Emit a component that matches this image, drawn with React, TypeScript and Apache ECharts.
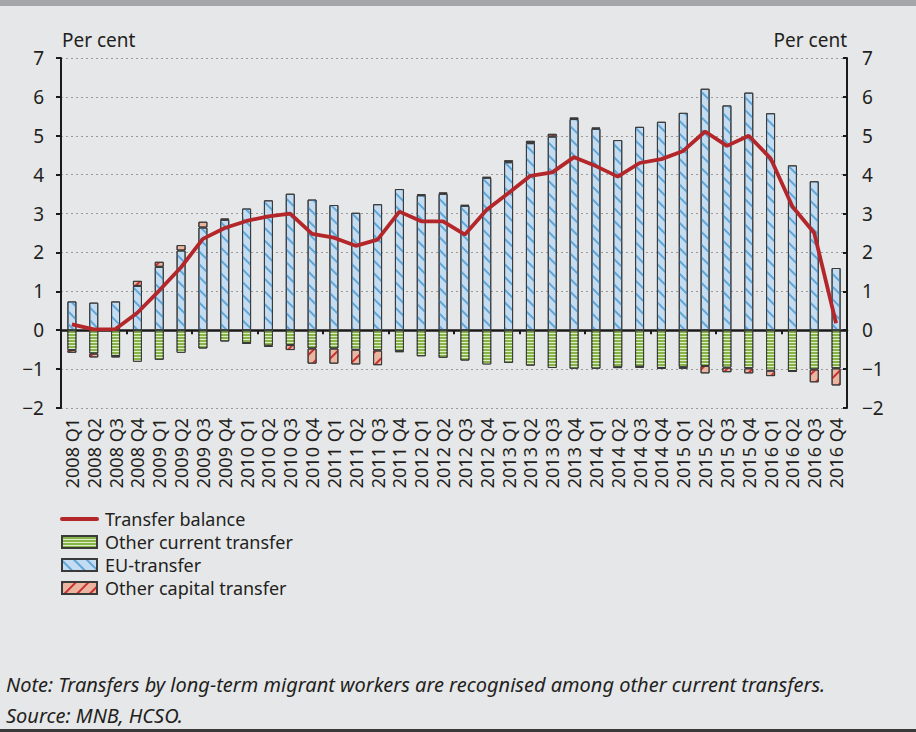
import React, { useEffect, useRef } from "react";
import * as echarts from "echarts";

const categories = [
  "2008 Q1", "2008 Q2", "2008 Q3", "2008 Q4",
  "2009 Q1", "2009 Q2", "2009 Q3", "2009 Q4",
  "2010 Q1", "2010 Q2", "2010 Q3", "2010 Q4",
  "2011 Q1", "2011 Q2", "2011 Q3", "2011 Q4",
  "2012 Q1", "2012 Q2", "2012 Q3", "2012 Q4",
  "2013 Q1", "2013 Q2", "2013 Q3", "2013 Q4",
  "2014 Q1", "2014 Q2", "2014 Q3", "2014 Q4",
  "2015 Q1", "2015 Q2", "2015 Q3", "2015 Q4",
  "2016 Q1", "2016 Q2", "2016 Q3", "2016 Q4",
];

const otherCurrent = [
  -0.51, -0.6, -0.66, -0.81,
  -0.76, -0.58, -0.47, -0.29,
  -0.33, -0.4, -0.38, -0.47,
  -0.47, -0.5, -0.52, -0.54,
  -0.67, -0.71, -0.78, -0.88,
  -0.84, -0.91, -0.97, -0.99,
  -0.99, -0.95, -0.94, -0.97,
  -0.95, -0.92, -0.96, -0.98,
  -1.04, -1.05, -1.01, -0.98,
];

const euTransfer = [
  0.74, 0.71, 0.74, 1.14,
  1.63, 2.05, 2.64, 2.84,
  3.13, 3.34, 3.51, 3.36,
  3.22, 3.02, 3.24, 3.63,
  3.47, 3.51, 3.2, 3.92,
  4.32, 4.81, 4.98, 5.43,
  5.18, 4.89, 5.23, 5.36,
  5.59, 6.21, 5.78, 6.11,
  5.58, 4.24, 3.83, 1.6,
];

const otherCapital = [
  -0.07, -0.1, -0.04, 0.13,
  0.13, 0.14, 0.15, 0.03,
  -0.02, -0.03, -0.13, -0.39,
  -0.39, -0.38, -0.38, -0.02,
  0.02, 0.03, 0.02, 0.02,
  0.05, 0.06, 0.07, 0.04,
  0.03, -0.02, -0.02, -0.02,
  -0.04, -0.19, -0.12, -0.13,
  -0.14, -0.02, -0.33, -0.44,
];

const transferBalance = [
  0.15, 0.02, 0.03, 0.45,
  1.02, 1.62, 2.35, 2.63,
  2.81, 2.93, 3.0, 2.48,
  2.38, 2.17, 2.33, 3.05,
  2.8, 2.8, 2.46, 3.1,
  3.53, 3.97, 4.06, 4.45,
  4.22, 3.95, 4.3, 4.4,
  4.61, 5.11, 4.74, 5.0,
  4.42, 3.18, 2.5, 0.18,
];

const yTicks = { min: -2, max: 7, interval: 1 };

const FONT = "Noto Sans";
const TEXT = "#231f20";
const AXIS = "#1a1a1a";
const LINE_RED = "#b3262a";

const fmt = (v: number) => String(v).replace("-", "\u2212");

export default function App() {
  const ref = useRef<HTMLDivElement>(null);

  useEffect(() => {
    if (!ref.current) return;
    const chart = echarts.init(ref.current, undefined, { renderer: "svg" });

    const barBorder = { borderColor: "#3a3a3a", borderWidth: 1 };

    const option: any = {
      animation: false,
      backgroundColor: "#e6e7e9",
      textStyle: { fontFamily: FONT },
      grid: { left: 61, right: 69, top: 58, bottom: 324 },
      legend: {
        orient: "vertical",
        left: 60,
        top: 510,
        padding: 0,
        itemWidth: 35,
        itemHeight: 12,
        itemGap: 5,
        selectedMode: false,
        textStyle: { fontSize: 18, color: TEXT, fontFamily: FONT, lineHeight: 18, padding: [0, 0, 0, 3] },
        data: [
          {
            name: "Transfer balance",
            itemStyle: { color: "rgba(0,0,0,0)", borderWidth: 0 },
            lineStyle: { color: LINE_RED, width: 4, cap: "round" },
          },
          { name: "Other current transfer", icon: "rect" },
          { name: "EU-transfer", icon: "rect" },
          { name: "Other capital transfer", icon: "rect" },
        ],
      },
      xAxis: [
        {
          type: "category",
          data: categories,
          position: "bottom",
          axisLine: { onZero: true, lineStyle: { color: AXIS, width: 2.5 } },
          axisTick: { show: true, length: 4, lineStyle: { color: AXIS, width: 2 } },
          axisLabel: { show: false },
          splitLine: { show: false },
        },
        {
          type: "category",
          data: categories,
          position: "bottom",
          axisLine: { show: false, onZero: false },
          axisTick: { show: false },
          splitLine: { show: false },
          axisLabel: {
            rotate: 90,
            interval: 0,
            fontSize: 18,
            color: TEXT,
            fontFamily: FONT,
            margin: 10,
          },
        },
      ],
      yAxis: [
        {
          type: "value",
          position: "left",
          ...yTicks,
          name: "Per cent",
          nameLocation: "end",
          nameGap: 9,
          nameTextStyle: { align: "left", fontSize: 19, color: TEXT, fontFamily: FONT, padding: [0, 0, 0, 1] },
          axisLine: { show: true, lineStyle: { color: AXIS, width: 2 } },
          axisTick: { show: true, length: 5, lineStyle: { color: AXIS, width: 2 } },
          axisLabel: { fontSize: 19, color: TEXT, fontFamily: FONT, margin: 17, formatter: fmt },
          splitLine: { show: true, lineStyle: { color: "#9a9a9a", width: 1, type: [2, 3] } },
        },
        {
          type: "value",
          position: "right",
          ...yTicks,
          name: "Per cent",
          nameLocation: "end",
          nameGap: 9,
          nameTextStyle: { align: "right", fontSize: 19, color: TEXT, fontFamily: FONT },
          axisLine: { show: true, lineStyle: { color: AXIS, width: 2 } },
          axisTick: { show: true, inside: true, length: 4, lineStyle: { color: AXIS, width: 2 } },
          axisLabel: { fontSize: 19, color: TEXT, fontFamily: FONT, margin: 15, formatter: fmt },
          splitLine: { show: false },
        },
      ],
      series: [
        {
          name: "Other current transfer",
          type: "bar",
          stack: "t",
          barWidth: 9,
          data: otherCurrent,
          itemStyle: {
            color: "#86b449",
            ...barBorder,
            decal: {
              symbol: "rect",
              symbolSize: 1,
              color: "rgba(232,243,214,0.9)",
              dashArrayX: [1, 0],
              dashArrayY: [1, 2],
              rotation: 0,
            },
          },
        },
        {
          name: "EU-transfer",
          type: "bar",
          stack: "t",
          barWidth: 9,
          data: euTransfer,
          itemStyle: {
            color: "#c4dcf1",
            ...barBorder,
            decal: {
              symbol: "rect",
              symbolSize: 1,
              color: "#5fa6d9",
              dashArrayX: [1, 0],
              dashArrayY: [1.4, 7],
              rotation: Math.PI / 4,
            },
          },
        },
        {
          name: "Other capital transfer",
          type: "bar",
          stack: "t",
          barWidth: 9,
          data: otherCapital,
          itemStyle: {
            color: "#ebb5a2",
            ...barBorder,
            decal: {
              symbol: "rect",
              symbolSize: 1,
              color: "#c8312d",
              dashArrayX: [1, 0],
              dashArrayY: [1.4, 7],
              rotation: -Math.PI / 4,
            },
          },
        },
        {
          name: "Transfer balance",
          type: "line",
          data: transferBalance,
          symbol: "none",
          z: 10,
          lineStyle: { color: LINE_RED, width: 3.8 },
          itemStyle: { color: LINE_RED },
        },
      ],
      graphic: [
        { type: "rect", left: 0, top: 0, shape: { width: 916, height: 6 }, style: { fill: "#a5a6aa" }, silent: true },
        { type: "rect", left: 0, top: 729, shape: { width: 916, height: 3 }, style: { fill: "#3a3a3a" }, silent: true },
        {
          type: "text",
          left: 6,
          top: 674,
          style: {
            text: "Note: Transfers by long-term migrant workers are recognised among other current transfers.",
            font: `italic 20px "${FONT}"`,
            fill: TEXT,
          },
        },
        {
          type: "text",
          left: 6,
          top: 705,
          style: {
            text: "Source: MNB, HCSO.",
            font: `italic 20px "${FONT}"`,
            fill: TEXT,
          },
        },
      ],
    };

    chart.setOption(option);
    return () => chart.dispose();
  }, []);

  return (
    <div
      ref={ref}
      style={{ position: "absolute", left: 0, top: 0, width: 916, height: 732 }}
    />
  );
}
